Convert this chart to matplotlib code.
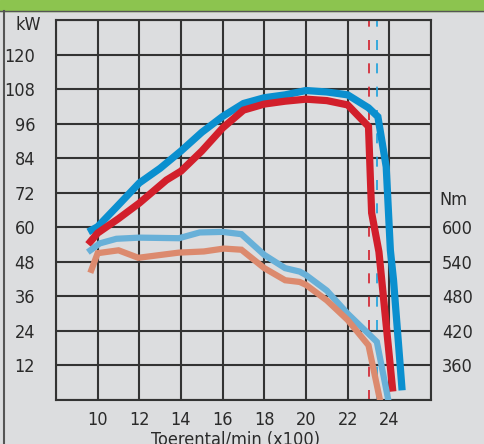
import matplotlib
matplotlib.use("Agg")
import matplotlib.pyplot as plt

plt.rcParams['font.family'] = ['DejaVu Sans']
plt.rcParams['font.stretch'] = 'condensed'

# power curves (kW) vs rpm/100
rpm_blue = [9.7, 10.0, 10.9, 12.0, 13.0, 14.0, 15.0, 16.0, 17.0, 18.0, 19.0, 20.0, 21.0, 22.0, 23.0, 23.45, 23.85, 24.05, 24.2, 24.6]
kw_blue = [59, 60.2, 67, 75.4, 80.5, 86.5, 93, 98.5, 103, 105, 106, 107.5, 107, 106, 101.5, 98.4, 81, 52, 41.7, 4.6]

rpm_red = [9.65, 10.0, 11.0, 12.0, 13.3, 14.0, 15.0, 16.0, 17.0, 18.0, 19.0, 20.0, 21.0, 22.0, 23.0, 23.15, 23.5, 24.15]
kw_red = [55, 58, 63, 68.4, 76.4, 79.5, 86.5, 94.5, 100.7, 102.8, 103.8, 104.5, 104, 102.5, 95, 65, 51.5, 4.2]

# torque curves (Nm)
rpm_tq_blue = [9.65, 10.1, 10.9, 12.0, 13.9, 14.9, 16.0, 16.9, 18.0, 19.0, 19.7, 20.0, 21.0, 22.0, 23.4, 23.95]
nm_tq_blue = [560, 572, 580, 582, 581, 591, 592, 588, 552, 529, 523, 517, 490, 450, 401, 300]

rpm_tq_red = [9.7, 10.0, 11.0, 11.95, 13.9, 15.1, 16.05, 16.9, 18.0, 19.0, 19.7, 20.0, 21.0, 22.0, 23.0, 23.55]
nm_tq_red = [526, 555, 560, 547, 556, 558, 563, 561, 529, 508, 505, 500, 473, 439, 395, 300]

rated_rpm = [23.0, 23.42]

x_ticks = [8, 10, 12, 14, 16, 18, 20, 22, 24, 26]
x_labels = ['', '10', '12', '14', '16', '18', '20', '22', '24', '']
kw_ticks = [0, 12, 24, 36, 48, 60, 72, 84, 96, 108, 120, 132]
kw_labels = ['', '12', '24', '36', '48', '60', '72', '84', '96', '108', '120', '']
nm_ticks = [360, 420, 480, 540, 600]

BG = '#dcdddf'
BLUE = '#0a8fcf'
RED = '#d21f2b'
LBLUE = '#68b0d8'
SALMON = '#dc8a6e'
GRID = '#333333'
TXT = '#2a2a2a'
FS = 13

fig = plt.figure(figsize=(4.85, 4.44), dpi=100, facecolor=BG)
ax = fig.add_axes([56/485, 1-400/444, 375/485, 380/444])
ax.set_facecolor(BG)

# frame decorations
fig.patches.append(plt.Rectangle((0, 1-11/444), 1, 11/444, transform=fig.transFigure,
                                 color='#8cc44f', zorder=0))
fig.lines.append(plt.Line2D([0, 1], [1-11.5/444, 1-11.5/444], transform=fig.transFigure,
                            color='#555555', lw=1))
fig.lines.append(plt.Line2D([4/485, 4/485], [0, 1-11/444], transform=fig.transFigure,
                            color='#555555', lw=1.5))

ax.set_xlim(8, 26)
ax.set_ylim(0, 132)
ax.set_xticks(x_ticks, x_labels)
ax.set_yticks(kw_ticks, kw_labels)
ax.grid(True, color=GRID, lw=1.5)
ax.set_axisbelow(True)
for s in ax.spines.values():
    s.set_color(GRID)
    s.set_linewidth(1.5)
ax.tick_params(length=0, labelsize=FS, colors=TXT)
ax.tick_params(axis='y', pad=15)
ax.tick_params(axis='x', pad=8)

ax.axvline(rated_rpm[0], color=RED, lw=1.2, dashes=(6, 8), zorder=2)
ax.axvline(rated_rpm[1], color='#1aa0dc', lw=1.2, dashes=(6, 8), zorder=2)

ax.plot(rpm_blue, kw_blue, color=BLUE, lw=5.2, solid_joinstyle='miter', zorder=4)
ax.plot(rpm_red, kw_red, color=RED, lw=5.2, solid_joinstyle='miter', zorder=4)

ax2 = ax.twinx()
ax2.set_ylim(300, 960)
ax2.set_yticks(nm_ticks)
ax2.tick_params(length=0, labelsize=FS, colors=TXT, pad=8)
for s in ax2.spines.values():
    s.set_visible(False)
ax2.plot(rpm_tq_blue, nm_tq_blue, color=LBLUE, lw=4.5, solid_joinstyle='miter')
ax2.plot(rpm_tq_red, nm_tq_red, color=SALMON, lw=4.5, solid_joinstyle='miter')

fig.text(41/485, 1-25/444, 'kW', ha='right', va='center', fontsize=FS, color=TXT)
fig.text(439/485, 1-200/444, 'Nm', ha='left', va='center', fontsize=FS, color=TXT)
fig.text(236/485, 1-440/444, 'Toerental/min (x100)', ha='center', va='center', fontsize=FS,
         color=TXT)

fig.savefig('out.png', dpi=100, facecolor=BG)
